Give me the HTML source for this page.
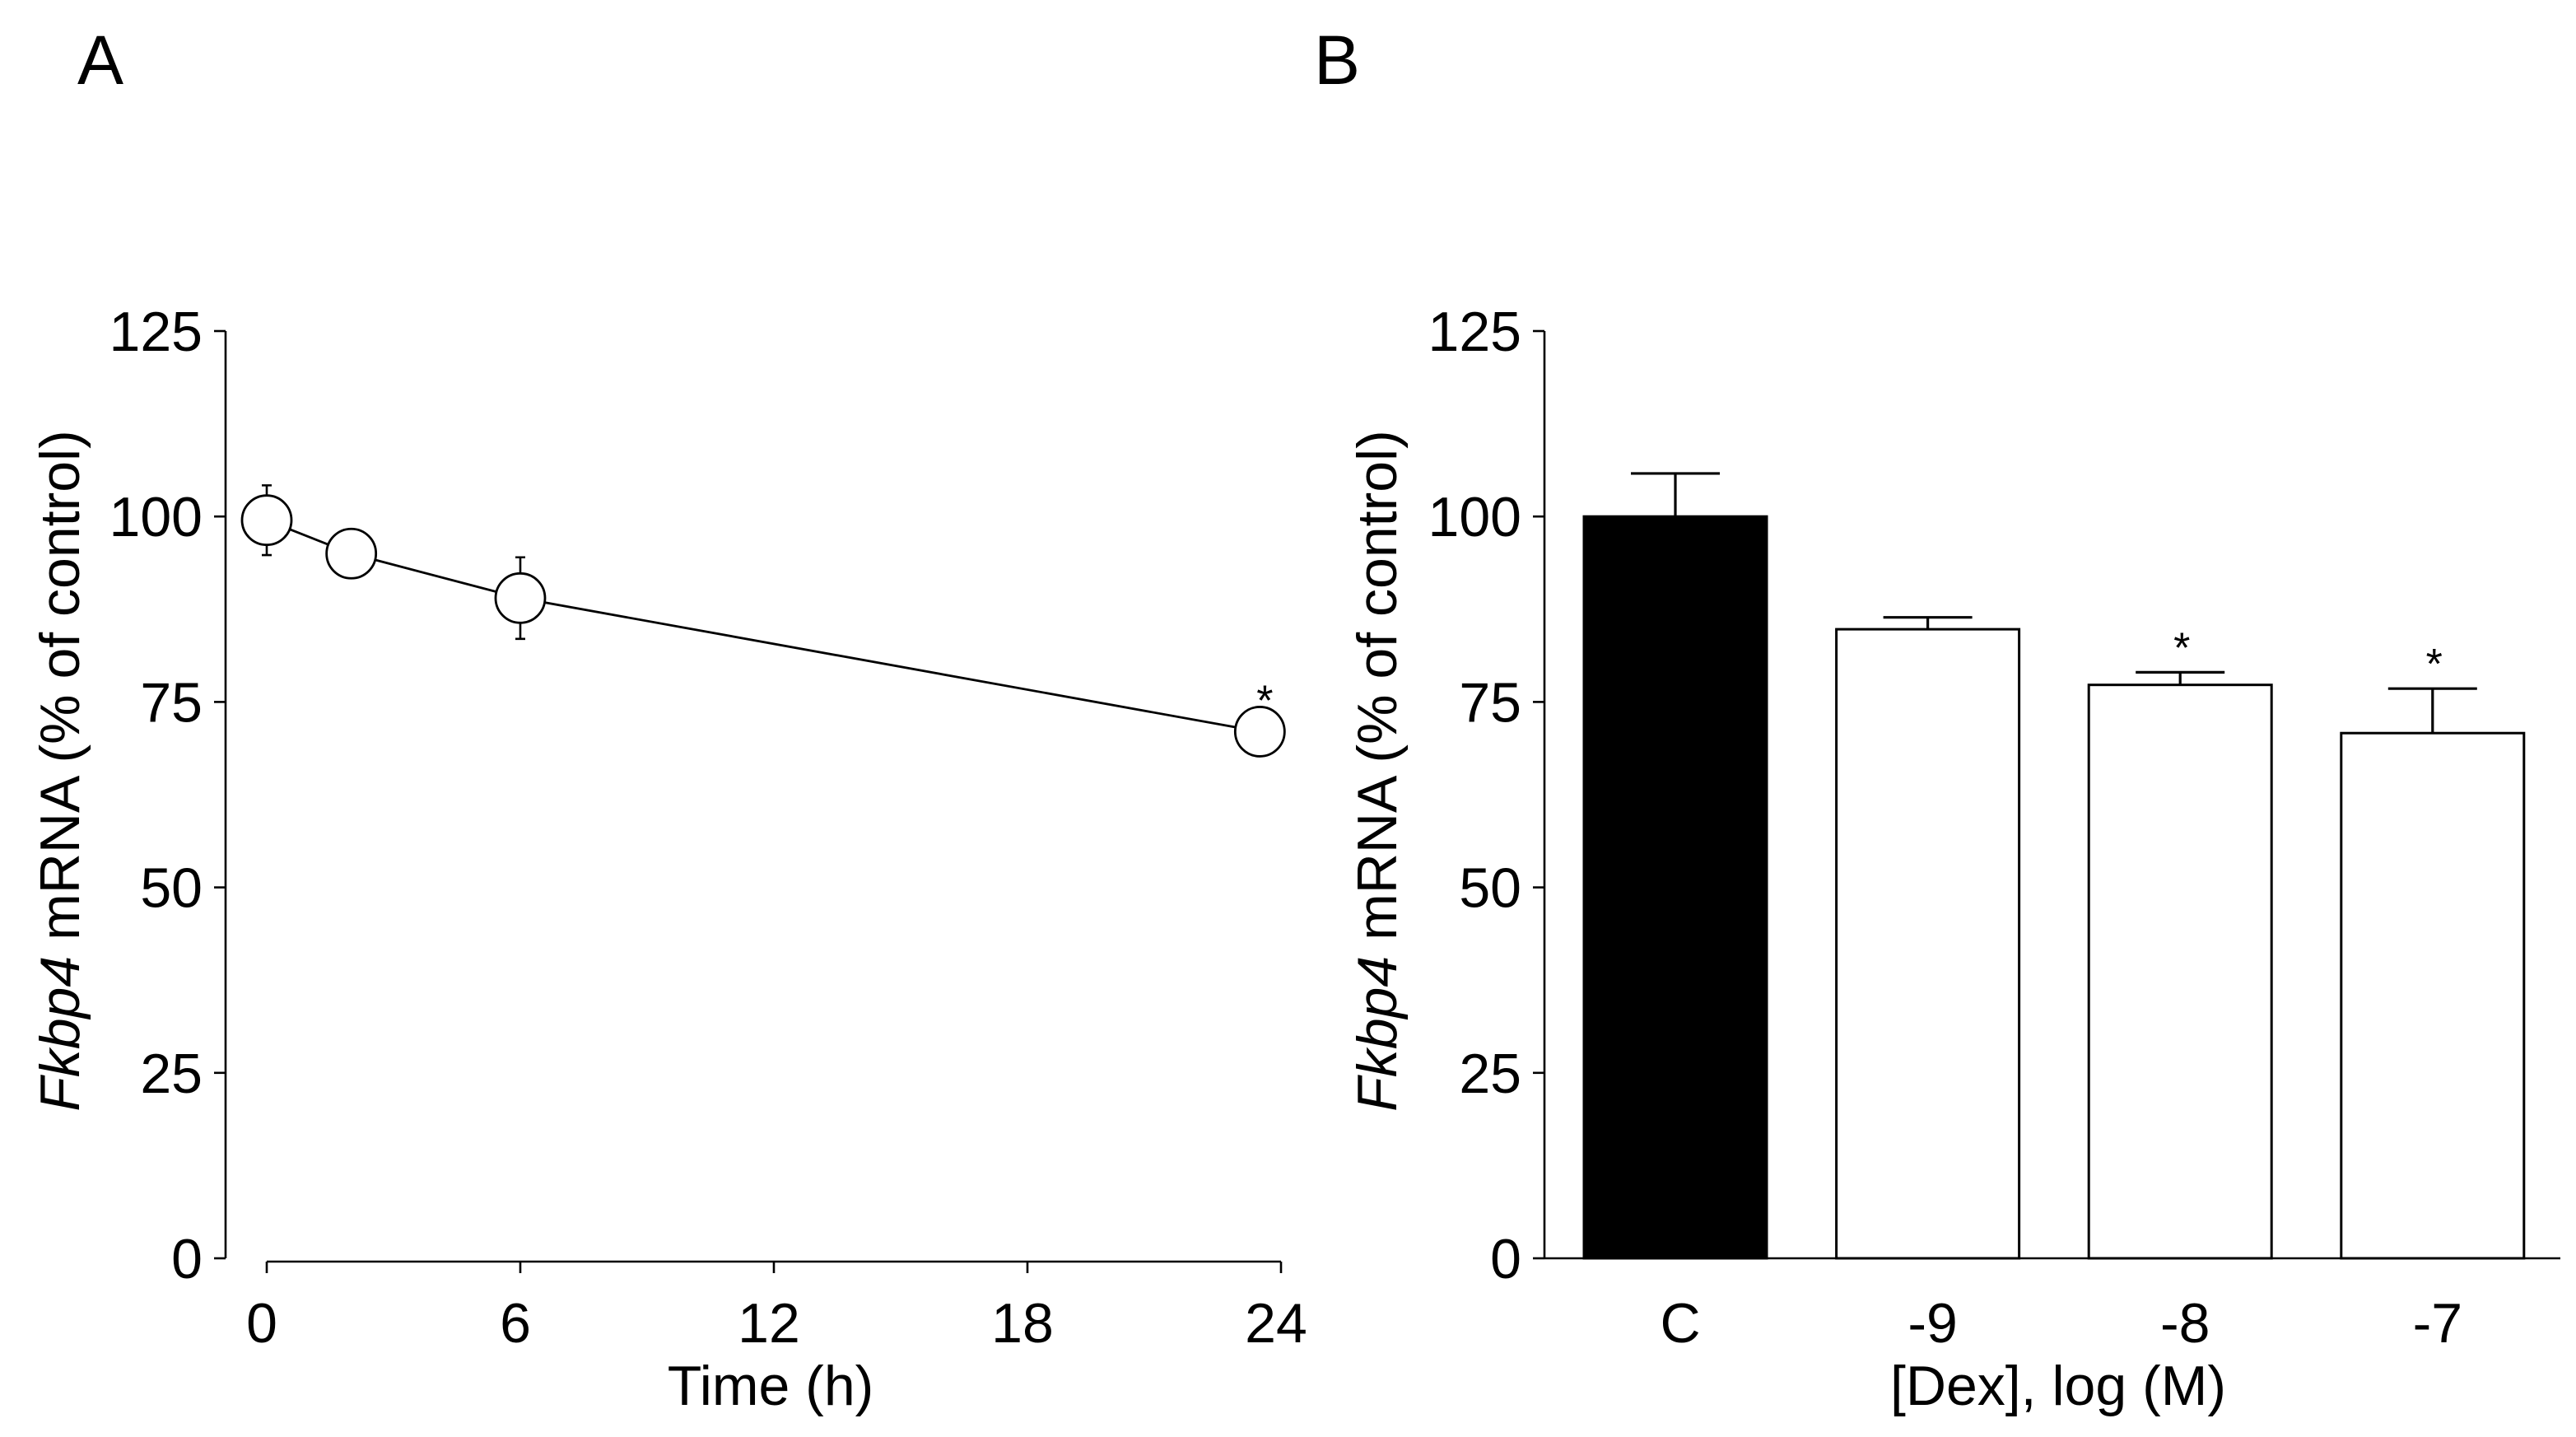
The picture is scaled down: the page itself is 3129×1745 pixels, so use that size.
<!DOCTYPE html>
<html><head><meta charset="utf-8"><style>
html,body{margin:0;padding:0;background:#fff;}
svg{display:block;}
text{font-family:"Liberation Sans",sans-serif;fill:#000;}
</style></head><body>
<svg id="fig" width="3129" height="1745" viewBox="0 0 1564.5 872.5" xmlns="http://www.w3.org/2000/svg">
<text x="47" y="51" font-size="42">A</text>
<text x="798" y="51" font-size="42">B</text>
<g id="panelA"></g>
<g id="panelB"></g>
</svg>
<script>
// Panel A data
const timeHours = [0, 2, 6, 23.5];
const timeMeans = [99.5, 95, 89, 71];
const timeErr = [4.7, 1.5, 5.5, 2];
const timeSig = [false, false, false, true];
const timeTicks = [0, 6, 12, 18, 24];
const yTicks = [0, 25, 50, 75, 100, 125];
// Panel B data
const doseCats = ["C", "-9", "-8", "-7"];
const doseMeans = [100, 84.8, 77.3, 70.8];
const doseErr = [5.8, 1.6, 1.7, 6];
const doseSig = [false, false, true, true];

const NS = "http://www.w3.org/2000/svg";
function mk(tag, attrs, parent, txt){
  const e = document.createElementNS(NS, tag);
  for (const k in attrs) e.setAttribute(k, attrs[k]);
  if (txt !== undefined) e.textContent = txt;
  parent.appendChild(e); return e;
}
const yTop = 201, yBot = 764;
function yScale(v){ return yBot - (v/125)*(yBot-yTop); }

function yAxis(g, x0, labelX){
  let l = mk('line',{x1:x0,y1:yTop,x2:x0,y2:yBot,stroke:'#000','stroke-width':1.3},g);
  
  
  yTicks.forEach(v=>{
    const y = yScale(v);
    let t = mk('line',{x1:x0-7,y1:y,x2:x0,y2:y,stroke:'#000','stroke-width':1.3},g);
    
    
    let tx = mk('text',{x:x0-14,y:y+12,'font-size':34,'text-anchor':'end'},g,String(v));
    
    
  });
  const cy = 468;
  let tt = mk('text',{x:labelX,y:cy,'font-size':34,'text-anchor':'middle',transform:`rotate(-90 ${labelX} ${cy})`},g);
  
  
  mk('tspan',{'font-style':'italic'},tt,'Fkbp4');
  mk('tspan',{},tt,' mRNA (% of control)');
}

// Panel A
(function(){
  const g = document.getElementById('panelA');
  const x0 = 162, x1 = 778;
  const xs = h => x0 + (h/24)*(x1-x0);
  yAxis(g, 137, 48);
  let ax = mk('line',{x1:x0,y1:766,x2:x1,y2:766,stroke:'#000','stroke-width':1.3},g);
  
  
  timeTicks.forEach(h=>{
    let t = mk('line',{x1:xs(h),y1:766,x2:xs(h),y2:773,stroke:'#000','stroke-width':1.3},g);
    
    
    let tx = mk('text',{x:xs(h)-3,y:815,'font-size':34,'text-anchor':'middle'},g,String(h));
    
    
  });
  let xt = mk('text',{x:468,y:853,'font-size':34,'text-anchor':'middle'},g,'Time (h)');
  
  
  const pts = timeHours.map((h,i)=>xs(h)+','+yScale(timeMeans[i])).join(' ');
  let pl = mk('polyline',{points:pts,fill:'none',stroke:'#000','stroke-width':1.4},g);
  
  
  timeHours.forEach((h,i)=>{
    const cx = xs(h), cy = yScale(timeMeans[i]);
    const yt = yScale(timeMeans[i]+timeErr[i]), yb = yScale(timeMeans[i]-timeErr[i]);
    let eb = mk('path',{d:`M${cx},${yt}V${yb}M${cx-3},${yt}H${cx+3}M${cx-3},${yb}H${cx+3}`,stroke:'#000','stroke-width':1.3,fill:'none'},g);
    
    
    let c = mk('circle',{cx:cx,cy:cy,r:15,fill:'#fff',stroke:'#000','stroke-width':1.4},g);
    
    
    if (timeSig[i]){
      let s = mk('text',{x:cx+3,y:cy-10,'font-size':26,'text-anchor':'middle'},g,'*');
      
      
    }
  });
})();

// Panel B
(function(){
  const g = document.getElementById('panelB');
  const x0 = 938, x1 = 1555;
  const bw = 111;
  const cx = i => x0 + 79.5 + 153.3*i;
  yAxis(g, x0, 848);
  let ax = mk('line',{x1:x0,y1:yBot,x2:x1,y2:yBot,stroke:'#000','stroke-width':1.3},g);
  
  
  doseCats.forEach((c,i)=>{
    const x = cx(i), yv = yScale(doseMeans[i]);
    const ye = yScale(doseMeans[i]+doseErr[i]);
    let eb = mk('path',{d:`M${x},${yv}V${ye}M${x-27},${ye}H${x+27}`,stroke:'#000','stroke-width':1.6,fill:'none'},g);
    
    
    let r = mk('rect',{x:x-bw/2,y:yv,width:bw,height:yBot-yv,fill:i===0?'#000':'#fff',stroke:'#000','stroke-width':1.5},g);
    
    
    let tx = mk('text',{x:x+3,y:815,'font-size':34,'text-anchor':'middle'},g,c);
    
    
    if (doseSig[i]){
      let s = mk('text',{x:x+1,y:ye-6,'font-size':26,'text-anchor':'middle'},g,'*');
      
      
    }
  });
  let xt = mk('text',{x:1250,y:853,'font-size':34,'text-anchor':'middle'},g,'[Dex], log (M)');
  
  
})();
</script>
</body></html>
